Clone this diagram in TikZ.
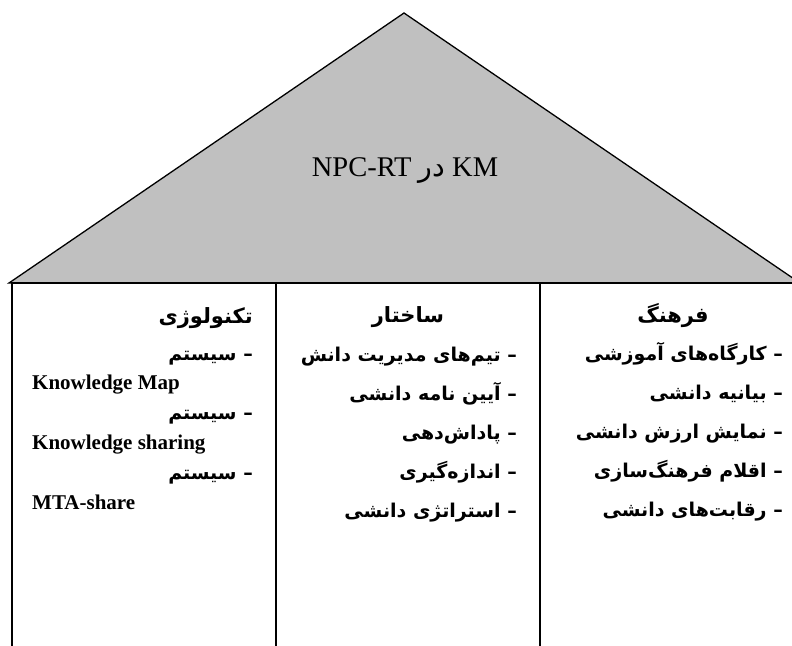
\documentclass[tikz,border=0pt]{standalone}
\usepackage{fontspec}
\setmainfont{Liberation Serif}
\newfontfamily\farsi[Script=Arabic]{DejaVu Sans}
\TeXXeTstate=1
\usepackage{tikz}
\usetikzlibrary{positioning}
\definecolor{roofgray}{HTML}{C0C0C0}
\tikzset{
  wall/.style={draw=black,line width=1.3pt},
  roof/.style={wall,fill=roofgray,line join=miter},
  title/.style={font=\fontsize{28.5}{32}\selectfont,inner sep=0pt},
  head/.style={font=\farsi\bfseries\fontsize{21}{24}\selectfont,inner sep=0pt,
    text height=15pt,text depth=6pt},
  item/.style={font=\farsi\bfseries\fontsize{19}{22}\selectfont,inner sep=0pt,
    text height=14pt,text depth=6pt,anchor=east},
  latin/.style={font=\bfseries\fontsize{21}{24}\selectfont,inner sep=0pt,
    text height=14pt,text depth=6pt,anchor=west},
}
\begin{document}
\begin{tikzpicture}[x=1pt,y=-1pt,node distance=18.8pt]
  \useasboundingbox (0,0) rectangle (792,645);
  % roof
  \draw[roof] (9,283) -- (404,13) -- (800,283) -- cycle;
  \node[title] (km) at (405,171)
    {\beginR\beginL KM\endL{} {\farsi در} \beginL NPC-RT\endL\endR};
  % walls
  \draw[wall] (12,660) -- (12,283) -- (810,283);
  \draw[wall] (276,283) -- (276,660);
  \draw[wall] (540,283) -- (540,660);
  \draw[wall] (804,283) -- (804,660);

  % technology
  \node[head,anchor=east] (tech) at (253,319) {\beginR تکنولوژی\endR};
  \node[item] (sys1) at (253,356) {\beginR – سیستم\endR};
  \node[latin] (map) at (32,385) {Knowledge Map};
  \node[item] (sys2) at (253,415) {\beginR – سیستم\endR};
  \node[latin] (share) at (32,445) {Knowledge sharing};
  \node[item] (sys3) at (253,475) {\beginR – سیستم\endR};
  \node[latin] (mta) at (32,505) {MTA-share};

  % structure
  \node[head] (struct) at (408,318) {\beginR ساختار\endR};
  \node[item] (st1) at (517,357) {\beginR – تیم‌های مدیریت دانش\endR};
  \node[item,below=of st1.south east,anchor=north east] (st2) {\beginR – آیین نامه دانشی\endR};
  \node[item,below=of st2.south east,anchor=north east] (st3) {\beginR – پاداش‌دهی\endR};
  \node[item,below=of st3.south east,anchor=north east] (st4) {\beginR – اندازه‌گیری\endR};
  \node[item,below=of st4.south east,anchor=north east] (st5) {\beginR – استراتژی دانشی\endR};

  % culture
  \node[head] (cult) at (673,318) {\beginR فرهنگ\endR};
  \node[item] (cu1) at (783,356) {\beginR – کارگاه‌های آموزشی\endR};
  \node[item,below=of cu1.south east,anchor=north east] (cu2) {\beginR – بیانیه دانشی\endR};
  \node[item,below=of cu2.south east,anchor=north east] (cu3) {\beginR – نمایش ارزش دانشی\endR};
  \node[item,below=of cu3.south east,anchor=north east] (cu4) {\beginR – اقلام فرهنگ‌سازی\endR};
  \node[item,below=of cu4.south east,anchor=north east] (cu5) {\beginR – رقابت‌های دانشی\endR};
\end{tikzpicture}
\end{document}
